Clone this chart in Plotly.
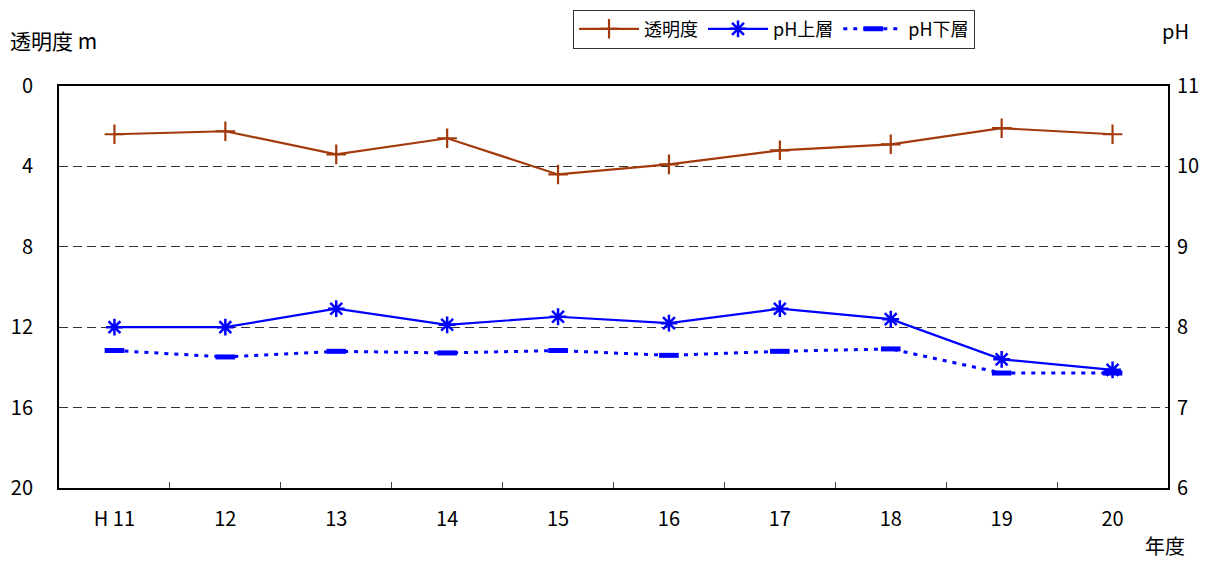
import plotly.graph_objects as go

years = ["H 11", "12", "13", "14", "15", "16", "17", "18", "19", "20"]
transparency = [2.4, 2.25, 3.4, 2.6, 4.4, 3.9, 3.2, 2.9, 2.1, 2.4]
ph_upper = [8.0, 8.0, 8.23, 8.03, 8.13, 8.05, 8.23, 8.1, 7.6, 7.47]
ph_lower = [7.71, 7.63, 7.7, 7.68, 7.71, 7.65, 7.7, 7.73, 7.43, 7.43]

FONT = "Noto Sans CJK JP"
BROWN = "#A33A0C"
BLUE = "#0000FF"

fig = go.Figure()
fig.add_trace(go.Scatter(
    x=years, y=transparency, name="透明度", mode="lines+markers",
    line=dict(color=BROWN, width=2.2),
    marker=dict(symbol="cross-thin", size=14, line=dict(color=BROWN, width=2.2)),
))
fig.add_trace(go.Scatter(
    x=years, y=ph_upper, name="pH上層", mode="lines+markers", yaxis="y2",
    line=dict(color=BLUE, width=2.2),
    marker=dict(symbol="asterisk-open", size=14, line=dict(color=BLUE, width=2.5)),
))
fig.add_trace(go.Scatter(
    x=years, y=ph_lower, name="pH下層", mode="lines+markers", yaxis="y2",
    line=dict(color=BLUE, width=3, dash="4px,6px"),
    marker=dict(symbol="line-ew", size=14, line=dict(color=BLUE, width=5)),
))

fig.update_layout(
    width=1214, height=562,
    margin=dict(l=59, r=46, t=86, b=74, autoexpand=False),
    paper_bgcolor="white", plot_bgcolor="white",
    font=dict(family=FONT, size=20, color="black"),
    showlegend=True,
    legend=dict(
        orientation="h", x=0.4635, y=1.19, xanchor="left", yanchor="top",
        bordercolor="#333333", borderwidth=1, bgcolor="white",
        font=dict(family=FONT, size=18), itemwidth=60,
    ),
    xaxis=dict(
        type="category", range=[-0.5, 9.5],
        showline=True, linecolor="black", linewidth=2, mirror=True,
        ticks="inside", tickson="boundaries", ticklen=6, tickcolor="#444444",
        showgrid=False, ticklabelstandoff=12, zeroline=False,
    ),
    yaxis=dict(
        range=[20, 0], tickvals=[0, 4, 8, 12, 16, 20],
        showline=True, linecolor="black", linewidth=2, mirror=True,
        showgrid=True, gridcolor="#333333", gridwidth=1, griddash="9px,5px",
        ticks="", ticklabelstandoff=20, zeroline=False,
    ),
    yaxis2=dict(
        range=[6, 11], tickvals=[6, 7, 8, 9, 10, 11], overlaying="y", side="right",
        showgrid=False, showline=False, ticks="", ticklabelstandoff=8, zeroline=False,
    ),
    annotations=[
        dict(text="透明度 m", xref="paper", yref="paper", x=-0.046, y=1.114,
             xanchor="left", yanchor="middle", showarrow=False, font=dict(size=21)),
        dict(text="pH", xref="paper", yref="paper", x=1.007, y=1.139,
             xanchor="center", yanchor="middle", showarrow=False, font=dict(size=20)),
        dict(text="年度", xref="paper", yref="paper", x=0.997, y=-0.144,
             xanchor="center", yanchor="middle", showarrow=False, font=dict(size=20)),
    ],
)

fig.write_html("out.html", config={"displayModeBar": False},
               post_script="document.body.style.margin='0px';")
